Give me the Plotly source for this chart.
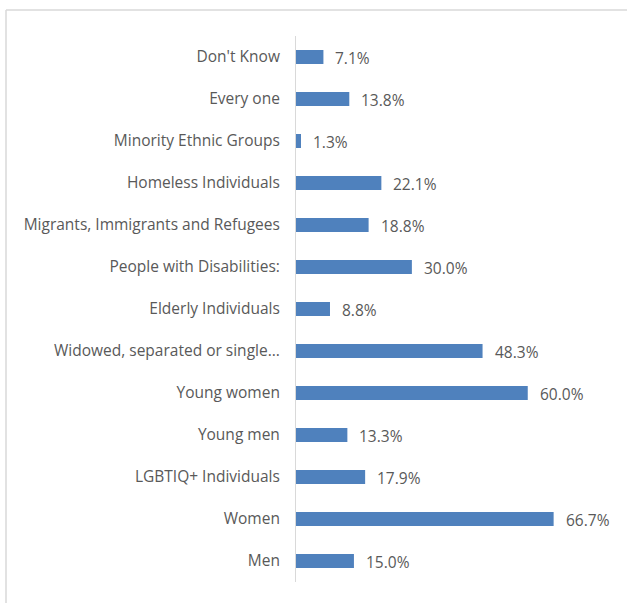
import plotly.graph_objects as go

# Groups listed top to bottom as they appear on the chart
groups = [
    "Don't Know",
    "Every one",
    "Minority Ethnic Groups",
    "Homeless Individuals",
    "Migrants, Immigrants and Refugees",
    "People with Disabilities:",
    "Elderly Individuals",
    "Widowed, separated or single...",
    "Young women",
    "Young men",
    "LGBTIQ+ Individuals",
    "Women",
    "Men",
]
shares = [7.1, 13.8, 1.3, 22.1, 18.8, 30.0, 8.8, 48.3, 60.0, 13.3, 17.9, 66.7, 15.0]

FONT = "Open Sans"
TEXT_GREY = "#595959"
BAR_BLUE = "#4F81BD"
FRAME_GREY = "#D9D9D9"

W, H = 627, 603
L, R, T, B = 296, 22, 36, 21
pw, ph = W - L - R, H - T - B


def px_x(p):
    return (p - L) / pw


def px_y(p):
    return (H - B - p) / ph


fig = go.Figure(
    go.Bar(
        x=shares,
        y=groups,
        orientation="h",
        marker=dict(color=BAR_BLUE, line=dict(width=0)),
        hoverinfo="skip",
    )
)

for g, v in zip(groups, shares):
    fig.add_annotation(
        x=v, y=g, text=f"{v:.1f}%", showarrow=False,
        xanchor="left", xshift=10, yshift=-1,
        font=dict(family=FONT, size=15.5, color=TEXT_GREY),
    )

# chart-area frame (top and left edges)
fig.add_shape(type="line", xref="paper", yref="paper",
              x0=px_x(6), x1=px_x(W + 5), y0=px_y(10), y1=px_y(10),
              line=dict(color=FRAME_GREY, width=1.5))
fig.add_shape(type="line", xref="paper", yref="paper",
              x0=px_x(6), x1=px_x(6), y0=px_y(10), y1=px_y(H + 5),
              line=dict(color=FRAME_GREY, width=1.5))

fig.update_layout(
    width=W, height=H,
    margin=dict(l=L, r=R, t=T, b=B, autoexpand=False),
    paper_bgcolor="white", plot_bgcolor="white",
    bargap=0.667,
    showlegend=False,
    font=dict(family=FONT, size=15.5, color=TEXT_GREY),
)
fig.update_xaxes(range=[0, 80], visible=False, fixedrange=True)
fig.update_yaxes(
    autorange="reversed",
    showline=True, linecolor=FRAME_GREY, linewidth=1,
    showgrid=False, zeroline=False,
    ticks="", ticklabelstandoff=12,
    tickfont=dict(family=FONT, size=15.5, color=TEXT_GREY),
    fixedrange=True,
)

fig.write_html("out.html")
